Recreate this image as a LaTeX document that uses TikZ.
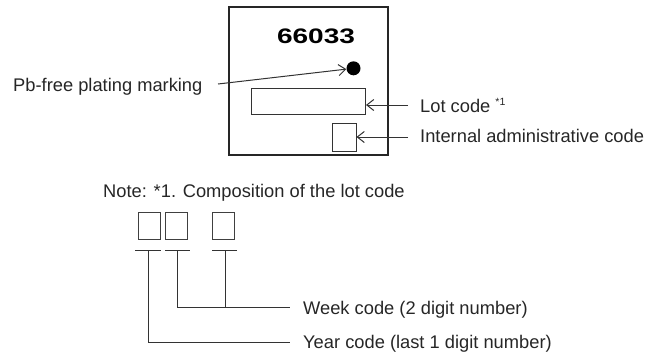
\documentclass[tikz,border=0pt]{standalone}
\usepackage{fontspec}
\setmainfont{Liberation Sans}
\usetikzlibrary{arrows.meta}
\tikzset{
  lbl/.style={anchor=base west, inner sep=0pt, text=black!85, font=\fontsize{18.3}{20}\selectfont},
  frame/.style={draw=black!85, line width=1.3pt},
  part/.style={draw=black!80, line width=1pt, inner sep=0pt, minimum width=#1},
  digit/.style={draw=black!75, line width=1pt, inner sep=0pt, minimum width=22pt, minimum height=27pt},
  lead/.style={draw=black!80, line width=1pt},
  pointer/.style={draw=black!80, line width=1pt, -{Straight Barb[length=7pt,width=11pt,line width=1pt]}}
}
\begin{document}
\begin{tikzpicture}[x=1pt,y=-1pt]
\useasboundingbox (0,0) rectangle (650,354);
% package
\node[frame, minimum width=159pt, minimum height=148pt, inner sep=0pt] (pkg) at (308.5,81) {};
\node[anchor=base, inner sep=0pt, font=\bfseries\fontsize{21}{21}\selectfont] (num) at (316,43) {\scalebox{1.335}[1]{66033}};
\node[circle, fill=black, inner sep=0pt, minimum size=14pt] (dot) at (353.5,68.3) {};
\node[part=114pt, minimum height=26pt] (lotbox) at (308.5,101) {};
\node[part=24pt, minimum height=28pt] (intbox) at (344,137) {};
% labels
\node[lbl] (pb) at (13,91) {Pb-free plating marking};
\node[lbl] (lot) at (420,112) {Lot code \raisebox{6.5pt}{\fontsize{10.5}{10.5}\selectfont *1}};
\node[lbl] (int) at (420,142) {Internal administrative code};
\coordinate (pbs) at (218,84);
\coordinate (lots) at (408,105);
\coordinate (ints) at (408,137);
\draw[pointer] (pbs) -- (dot);
\draw[pointer] (lots) -- (lotbox.east |- lots);
\draw[pointer] (ints) -- (intbox.east);
% note
\node[lbl] (note) at (103,197) {Note: *1. Composition of the lot code};
\node[digit] (d1) at (149,225.5) {};
\node[digit] (d2) at (176,225.5) {};
\node[digit] (d3) at (223,225.5) {};
\coordinate (t1) at (148,250);
\coordinate (t2) at (177,250);
\coordinate (t3) at (225,250);
\draw[lead] (135,250) -- (161,250);
\draw[lead] (165,250) -- (190,250);
\draw[lead] (212,250) -- (237,250);
\node[lbl] (week) at (303,314) {Week code (2 digit number)};
\node[lbl] (year) at (303,348) {Year code (last 1 digit number)};
\coordinate (we) at (290,307);
\coordinate (ye) at (290,342);
\draw[lead] (t1) |- (ye);
\draw[lead] (t2) |- (we);
\draw[lead] (t3) -- (t3 |- we);
\end{tikzpicture}
\end{document}
